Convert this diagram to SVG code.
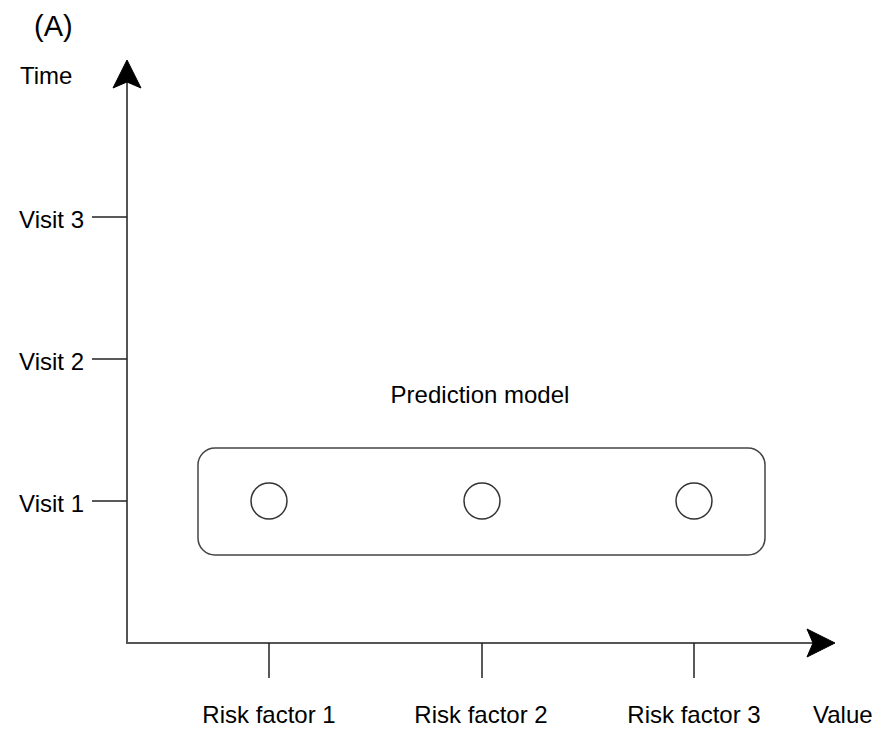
<svg xmlns="http://www.w3.org/2000/svg" width="877" height="733" viewBox="0 0 877 733">
<style>
text{font-family:"Liberation Sans",Arial,sans-serif;font-size:24px;fill:#000}
.axis{stroke:#555;stroke-width:2;fill:none}
.tick{stroke:#222;stroke-width:1.5;fill:none}
.head{fill:#000;stroke:#000;stroke-width:1}
.box{fill:none;stroke:#444;stroke-width:1.5}
.node{fill:#fff;stroke:#333;stroke-width:1.5}
</style>
<rect width="877" height="733" fill="#fff"/>
<text x="34" y="36" style="font-size:29px">(A)</text>
<g id="connectors">
<line class="axis" x1="127" y1="643" x2="127" y2="80"/>
<path class="head" d="M127 60 L141 88 L127 82 L113 88 Z"/>
<line class="axis" x1="126" y1="643" x2="815" y2="643"/>
<path class="head" d="M835 643 L807 657 L813 643 L807 629 Z"/>
<line class="tick" x1="92" y1="217" x2="127" y2="217"/>
<line class="tick" x1="92" y1="359" x2="127" y2="359"/>
<line class="tick" x1="92" y1="501" x2="127" y2="501"/>
<line class="tick" x1="269" y1="643" x2="269" y2="678"/>
<line class="tick" x1="482" y1="643" x2="482" y2="678"/>
<line class="tick" x1="694" y1="643" x2="694" y2="678"/>
</g>
<g id="axis-labels">
<text x="20" y="84">Time</text>
<text x="84" y="228" text-anchor="end">Visit 3</text>
<text x="84" y="370" text-anchor="end">Visit 2</text>
<text x="84" y="512" text-anchor="end">Visit 1</text>
<text x="269" y="723" text-anchor="middle">Risk factor 1</text>
<text x="481" y="723" text-anchor="middle">Risk factor 2</text>
<text x="694" y="723" text-anchor="middle">Risk factor 3</text>
<text x="813" y="723">Value</text>
</g>
<g id="prediction-model">
<rect class="box" x="198" y="448" width="567" height="107" rx="17" ry="17"/>
<text x="480" y="403" text-anchor="middle">Prediction model</text>
</g>
<g id="rf1-node"><circle class="node" cx="269" cy="501" r="18"/></g>
<g id="rf2-node"><circle class="node" cx="482" cy="501" r="18"/></g>
<g id="rf3-node"><circle class="node" cx="694" cy="501" r="18"/></g>
</svg>
